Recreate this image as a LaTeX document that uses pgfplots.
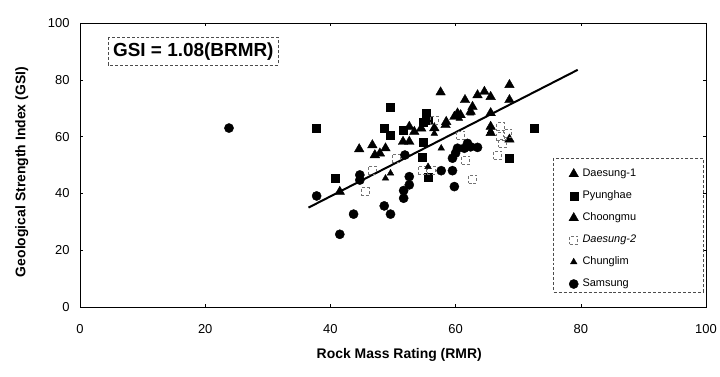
\documentclass[border=0pt]{standalone}
\usepackage{pgfplots}
\pgfplotsset{compat=1.18}
\usepackage{fontspec}
\setmainfont{Liberation Sans}
\begin{document}
\begin{tikzpicture}[x=1bp,y=1bp]
\useasboundingbox (0,0) rectangle (720,376);
\begin{axis}[
 at={(80bp,69bp)}, anchor=south west,
 width=626bp, height=284bp, scale only axis,
 xmin=0,xmax=100,ymin=0,ymax=100,
 xtick={0,20,...,100}, ytick={0,20,...,100},
 tick align=inside, major tick length=3bp,
 tick style={black, line width=0.4bp},
 axis line style={line width=0.7bp},
 /pgf/number format/assume math mode=true,
 ticklabel style={font=\fontsize{13}{15}\selectfont},
 xticklabel style={yshift=-14bp},
 yticklabel style={xshift=-7bp},
 xlabel={Rock Mass Rating (RMR)}, ylabel={Geological Strength Index (GSI)},
 label style={font=\bfseries\fontsize{14}{16}\selectfont},
 xlabel style={at={(axis description cs:0.51,-0.169)}, anchor=center},
 ylabel style={at={(axis description cs:-0.093,0.475)}, anchor=center},
 legend style={at={(axis cs:77.6,49.8)}, anchor=north west, draw=none, fill=none,
   font=\fontsize{11}{12}\selectfont, row sep=9.5bp,
   nodes={inner sep=1bp, text height=8bp, text depth=2.5bp},
   /tikz/every odd column/.style={column sep=3bp}},
 legend cell align=left,
]
\addplot[only marks, mark=triangle*, mark size=5.5bp, black] coordinates {
(57.6,75.6) (68.6,78.2) (63.5,74.6) (64.6,75.8) (65.6,74.0) (61.5,72.9) (68.6,72.9)
(62.7,70.5) (62.4,68.8) (65.6,68.3) (59.8,67.0) (60.8,67.6) (58.4,64.1) (60.3,68.2)
};
\addlegendentry{Daesung-1}
\addplot[only marks, mark=square*, mark size=4bp, black] coordinates {
(49.6,70.5) (37.7,62.9) (55.3,68.2) (55.6,65.8) (54.8,65.2) (48.6,62.9) (49.6,60.6)
(51.6,62.3) (72.5,62.9) (54.8,58.2) (54.6,52.9) (68.6,52.4) (55.6,45.7) (40.7,45.3)
};
\addlegendentry{Pyunghae}
\addplot[only marks, mark=triangle*, mark size=5.5bp, black] coordinates {
(52.6,63.5) (53.4,61.7) (54.5,62.9) (56.6,63.0) (65.6,63.5) (65.6,61.3) (68.6,59.0)
(51.6,58.2) (52.6,58.2) (44.6,55.6) (46.7,57.0) (48.8,55.9) (47.1,53.5) (47.9,54.1)
(41.5,40.6) (58.5,65.2)
};
\addlegendentry{Choongmu}
\addplot[only marks, mark=square, mark size=4bp, mark options={draw=black!55, densely dashed, line width=0.6bp, fill=white}] coordinates {
(56.6,65.8) (50.5,52.4) (46.7,48.2) (54.6,48.2) (56.1,48.2) (61.6,51.8) (62.7,45.1)
(66.7,53.5) (67.2,63.5) (68.3,61.2) (67.2,60.0) (67.5,57.6) (45.5,40.6) (60.8,60.6)
};
\addlegendentry{\itshape Daesung-2}
\addplot[only marks, mark=triangle*, mark size=3.8bp, black] coordinates {
(48.8,45.3) (49.6,47.1) (55.6,49.4) (56.6,61.1) (57.7,55.9) (60.6,66.4) (62.4,68.2)
(65.6,62.0)
};
\addlegendentry{Chunglim}
\addplot[only marks, mark=*, mark size=4.6bp, black] coordinates {
(23.8,63.0) (37.8,39.1) (44.7,46.5) (44.7,44.7) (51.9,53.5) (52.6,45.9) (52.6,43.0)
(51.7,41.0) (51.7,38.3) (48.6,35.6) (49.6,32.7) (43.7,32.7) (41.5,25.6) (57.7,48.0)
(59.5,48.0) (59.5,52.4) (59.8,42.4) (60.3,55.9) (61.4,55.9) (62.4,56.4) (63.5,56.2)
(61.9,57.6) (60.0,54.2)
};
\addlegendentry{Samsung}
\addplot[black, line width=2bp, forget plot] coordinates {(36.5,35.0) (79.5,83.5)};
\draw[black!70, densely dashed, line width=0.5bp] (axis cs:75.6,52.5) rectangle (axis cs:99.6,5.3);
\draw[black!70, densely dashed, line width=0.5bp] (axis cs:4.5,95) rectangle (axis cs:31.6,85.2);
\node[font=\bfseries\fontsize{19}{21}\selectfont, anchor=center] at (axis cs:18.1,90.1) {GSI = 1.08(BRMR)};
\end{axis}
\end{tikzpicture}
\end{document}
